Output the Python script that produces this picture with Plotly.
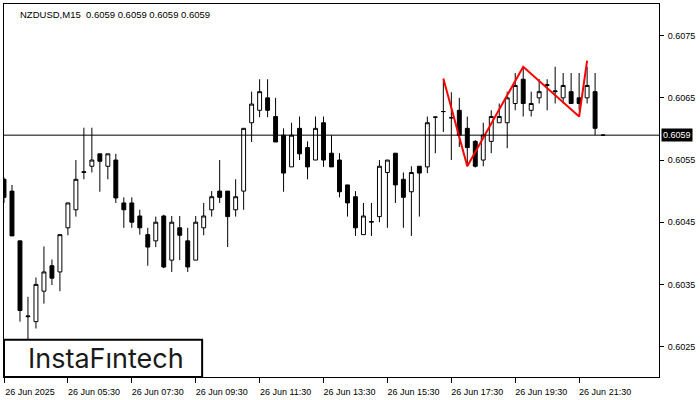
import plotly.graph_objects as go

# ---- data (NZDUSD M15, 26 Jun 2025) ----
opens = [0.60519, 0.60500, 0.60420, 0.60298, 0.60290, 0.60339, 0.60380, 0.60370, 0.60441, 0.60470,
         0.60530, 0.60540, 0.60560, 0.60540, 0.60550, 0.60481, 0.60481, 0.60460, 0.60430, 0.60420,
         0.60460, 0.60389, 0.60441, 0.60420, 0.60389, 0.60441, 0.60470, 0.60500, 0.60500, 0.60470,
         0.60500, 0.60610, 0.60630, 0.60650, 0.60620, 0.60590, 0.60539, 0.60601, 0.60570, 0.60550,
         0.60610, 0.60561, 0.60550, 0.60510, 0.60491, 0.60430, 0.60450, 0.60459, 0.60530, 0.60561,
         0.60519, 0.60499, 0.60540, 0.60539, 0.60619, 0.60628, 0.60618, 0.60630, 0.60601, 0.60580,
         0.60550, 0.60580, 0.60610, 0.60610, 0.60641, 0.60680, 0.60630, 0.60650, 0.60670, 0.60660,
         0.60650, 0.60660, 0.60650, 0.60650, 0.60660, 0.60590]
highs = [0.60522, 0.60510, 0.60420, 0.60330, 0.60361, 0.60411, 0.60390, 0.60430, 0.60481, 0.60550,
         0.60602, 0.60602, 0.60560, 0.60560, 0.60560, 0.60490, 0.60490, 0.60470, 0.60441, 0.60459,
         0.60462, 0.60460, 0.60460, 0.60441, 0.60460, 0.60481, 0.60500, 0.60550, 0.60500, 0.60519,
         0.60601, 0.60660, 0.60680, 0.60680, 0.60650, 0.60601, 0.60610, 0.60620, 0.60580, 0.60620,
         0.60620, 0.60590, 0.60561, 0.60510, 0.60500, 0.60481, 0.60481, 0.60550, 0.60550, 0.60561,
         0.60530, 0.60540, 0.60540, 0.60620, 0.60620, 0.60678, 0.60659, 0.60650, 0.60620, 0.60582,
         0.60610, 0.60630, 0.60641, 0.60660, 0.60690, 0.60699, 0.60660, 0.60680, 0.60680, 0.60700,
         0.60690, 0.60690, 0.60690, 0.60700, 0.60690, 0.60590]
lows = [0.60481, 0.60428, 0.60290, 0.60262, 0.60279, 0.60319, 0.60349, 0.60339, 0.60429, 0.60459,
        0.60519, 0.60530, 0.60499, 0.60519, 0.60481, 0.60441, 0.60441, 0.60430, 0.60380, 0.60410,
        0.60376, 0.60370, 0.60389, 0.60370, 0.60389, 0.60429, 0.60459, 0.60481, 0.60410, 0.60459,
        0.60470, 0.60579, 0.60619, 0.60619, 0.60579, 0.60499, 0.60539, 0.60550, 0.60519, 0.60550,
        0.60539, 0.60539, 0.60490, 0.60459, 0.60428, 0.60430, 0.60428, 0.60450, 0.60441, 0.60481,
        0.60441, 0.60428, 0.60459, 0.60529, 0.60561, 0.60595, 0.60550, 0.60571, 0.60540, 0.60538,
        0.60540, 0.60561, 0.60610, 0.60569, 0.60630, 0.60620, 0.60620, 0.60641, 0.60630, 0.60641,
        0.60641, 0.60641, 0.60630, 0.60641, 0.60590, 0.60590]
closes = [0.60490, 0.60428, 0.60308, 0.60299, 0.60350, 0.60370, 0.60360, 0.60430, 0.60481, 0.60519,
          0.60531, 0.60550, 0.60548, 0.60560, 0.60489, 0.60470, 0.60450, 0.60441, 0.60410, 0.60450,
          0.60378, 0.60450, 0.60429, 0.60378, 0.60450, 0.60460, 0.60491, 0.60490, 0.60459, 0.60491,
          0.60601, 0.60640, 0.60660, 0.60630, 0.60579, 0.60529, 0.60590, 0.60560, 0.60539, 0.60601,
          0.60550, 0.60539, 0.60499, 0.60481, 0.60441, 0.60460, 0.60451, 0.60540, 0.60550, 0.60510,
          0.60490, 0.60530, 0.60529, 0.60610, 0.60619, 0.60628, 0.60618, 0.60590, 0.60570, 0.60540,
          0.60590, 0.60620, 0.60620, 0.60650, 0.60670, 0.60641, 0.60641, 0.60660, 0.60671, 0.60661,
          0.60670, 0.60641, 0.60641, 0.60670, 0.60601, 0.60590]

tick_bars = [0, 8, 16, 24, 32, 40, 48, 56, 64, 72]
tick_labels = ["26 Jun 2025", "26 Jun 05:30", "26 Jun 07:30", "26 Jun 09:30", "26 Jun 11:30",
               "26 Jun 13:30", "26 Jun 15:30", "26 Jun 17:30", "26 Jun 19:30", "26 Jun 21:30"]
price_ticks = [0.6025, 0.6035, 0.6045, 0.6055, 0.6065, 0.6075]
price_tick_labels = ["0.6025", "0.6035", "0.6045", "0.6055", "0.6065", "0.6075"]

pattern_bars = [55, 58, 65, 72, 73]
pattern_prices = [0.60681, 0.60540, 0.60700, 0.60620, 0.60710]

current_price = 0.6059
title_text = "NZDUSD,M15  0.6059 0.6059 0.6059 0.6059"

FONT = "Liberation Sans"

bars = list(range(len(opens)))

fig = go.Figure()
fig.add_trace(go.Candlestick(
    x=bars, open=opens, high=highs, low=lows, close=closes,
    increasing=dict(fillcolor="white", line=dict(color="black", width=1)),
    decreasing=dict(fillcolor="black", line=dict(color="black", width=1)),
    whiskerwidth=0, showlegend=False, hoverinfo="skip",
))
fig.add_trace(go.Scatter(
    x=pattern_bars, y=pattern_prices, mode="lines",
    line=dict(color="#ff0000", width=2), showlegend=False, hoverinfo="skip",
))

fig.add_shape(type="line", xref="paper", x0=0, x1=1, yref="y", y0=current_price, y1=current_price,
              line=dict(color="black", width=1))

fig.add_annotation(x=1, xref="paper", y=current_price, yref="y", xanchor="left", yanchor="middle",
                   xshift=2, text=f"{current_price:.4f}", showarrow=False, bgcolor="black",
                   font=dict(family=FONT, size=9, color="white"), borderpad=1)

fig.add_annotation(x=0, xref="paper", y=1, yref="paper", xanchor="left", yanchor="top",
                   xshift=14, yshift=-3, text=title_text, showarrow=False,
                   font=dict(family=FONT, size=9.5, color="black"))

# logo box
fig.add_shape(type="rect", xref="paper", yref="paper", x0=0, x1=0.3025, y0=0, y1=0.10,
              line=dict(color="black", width=2), fillcolor="white")
fig.add_annotation(x=0.155, xref="paper", y=0.05, yref="paper", xanchor="center", yanchor="middle",
                   text="InstaF\u0131ntech", showarrow=False,
                   font=dict(family="Inter", size=27, color="#1a1a1a"))

fig.update_layout(
    width=700, height=400,
    margin=dict(l=3, r=41, t=3, b=22),
    paper_bgcolor="white", plot_bgcolor="white",
    xaxis=dict(range=[0, 82], tickvals=tick_bars, ticktext=tick_labels,
               rangeslider=dict(visible=False), showgrid=False, zeroline=False,
               showline=True, linecolor="black", linewidth=1, mirror=True,
               ticks="outside", ticklen=5, tickcolor="black",
               ticklabelshift=26, ticklabelstandoff=1,
               tickfont=dict(family=FONT, size=9, color="black")),
    yaxis=dict(range=[0.60201, 0.60801], side="right", tickvals=price_ticks, ticktext=price_tick_labels,
               showgrid=False, zeroline=False,
               showline=True, linecolor="black", linewidth=1, mirror=True,
               ticks="outside", ticklen=4, tickcolor="black", ticklabelstandoff=2,
               tickfont=dict(family=FONT, size=9, color="black")),
)

fig.write_html("out.html", config={"displayModeBar": False},
               post_script="document.body.style.margin='0';document.body.style.overflow='hidden';")
